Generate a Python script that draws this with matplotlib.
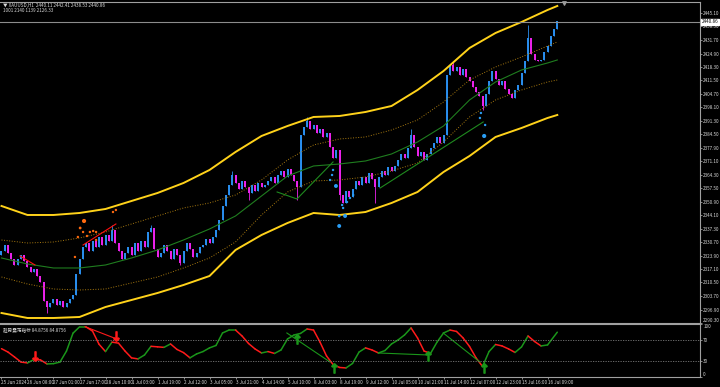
import numpy as np
from matplotlib import pyplot as plt

plt.rcParams['font.family'] = ['Noto Sans CJK SC', 'DejaVu Sans']

# XAUUSD 收盘价, 每2小时一根 (25 Jun 2024 -> 16 Jul 2024)
closes = [2326, 2329, 2325, 2322, 2319, 2322, 2324, 2321, 2318, 2315.5, 2317, 2313.5, 2310.5,
          2301, 2298,
          2300, 2302, 2299, 2301, 2298, 2300, 2302,
          2304, 2314.5, 2322, 2328,
          2330, 2326, 2331, 2328, 2333, 2329, 2334, 2331, 2336.5, 2330,
          2326, 2322, 2325, 2328, 2324, 2330, 2326, 2331, 2328, 2335.5, 2337.5, 2327, 2323,
          2325, 2329, 2326, 2322, 2327, 2324, 2320, 2326, 2330, 2327, 2323, 2325, 2328,
          2329, 2332, 2330, 2333, 2336.5,
          2341.5, 2348.5, 2354, 2359, 2364,
          2360, 2357, 2361, 2358, 2355, 2359, 2356, 2360, 2358,
          2359, 2361, 2363, 2360, 2364, 2366, 2363, 2367, 2364, 2361, 2358,
          2384, 2388, 2391, 2387,
          2389, 2385, 2387, 2383, 2385,
          2378, 2372.5, 2376.5,
          2354, 2350, 2356, 2353, 2357,
          2361, 2359, 2363, 2360, 2365, 2362,
          2358,
          2363, 2366, 2364, 2368, 2366,
          2368.5, 2371.5, 2374.5, 2372.5,
          2377.5, 2384, 2378,
          2373.5, 2375.5, 2371.5, 2374.5,
          2377.5, 2380, 2383,
          2380, 2384, 2414,
          2419, 2416, 2418, 2414, 2417, 2413,
          2411, 2408, 2405.5, 2403.5, 2398.5,
          2404.5, 2411, 2416,
          2412, 2409, 2411, 2407, 2404.5,
          2402.5, 2406.5, 2409, 2415,
          2421, 2432.5, 2424.5, 2421.5, 2421, 2421.5, 2425.5, 2428.5, 2433.5, 2437, 2440.86]
first_open = 2324
wick_high = {34: 2339, 46: 2339, 71: 2366, 94: 2393, 126: 2387, 139: 2421, 162: 2439}
wick_low = {14: 2295, 55: 2319, 76: 2351.5, 91: 2351.5, 104: 2351.5, 115: 2350, 148: 2396.5}
last_price = 2440.86

# 通道线 (每8根取一个值)
band_bars = list(range(0, 169, 8)) + [171]
upper_band = [2348.75, 2344.25, 2344.25, 2345.25, 2347.25, 2351.25, 2355.25, 2360.25, 2366.75, 2375.75,
              2383.75, 2388.75, 2393.25, 2393.75, 2395.75, 2398.75, 2406.75, 2416.25, 2427.75, 2435.25,
              2440.75, 2446.75, 2448.75]
upper_dot = [2331.75, 2330.25, 2330.75, 2332.75, 2335.75, 2339.75, 2343.75, 2347.75, 2350.25, 2354.25,
             2361.75, 2371.75, 2379.25, 2382.25, 2383.25, 2386.75, 2391.75, 2400.75, 2411.75, 2418.25,
             2423.25, 2428.75, 2430.75]
mid_line = [2322.75, 2319.75, 2317.75, 2317.75, 2319.25, 2322.75, 2326.75, 2331.75, 2337.25, 2343.75,
            2353.75, 2363.75, 2368.75, 2369.75, 2371.25, 2374.75, 2380.75, 2388.75, 2401.75, 2410.75,
            2416.75, 2420.25, 2421.75]
lower_dot = [2313.25, 2309.75, 2307.25, 2306.75, 2307.25, 2310.25, 2313.25, 2317.75, 2322.75, 2330.75,
             2344.25, 2355.75, 2361.25, 2361.75, 2363.25, 2366.25, 2370.25, 2380.75, 2393.25, 2401.75,
             2406.75, 2410.75, 2411.75]
lower_band = [2295.25, 2292.75, 2292.75, 2293.25, 2298.25, 2301.75, 2305.25, 2309.25, 2313.75, 2326.75,
              2334.25, 2340.25, 2345.25, 2344.25, 2345.75, 2350.25, 2355.75, 2365.75, 2373.75, 2383.25,
              2387.75, 2392.75, 2394.25]

# 红色背离线 / 绿色趋势线 (bar, price)
red_lines = [[(5.7, 2323.75), (10.3, 2319.25)], [(25.1, 2329.25), (35.2, 2339.75)]]
green_lines = [[(84.8, 2355.75), (90.9, 2352.25), (102.0, 2370.75)], [(116.5, 2357.75), (148.2, 2390.75)]]

# 橙色点 / 蓝色点 (bar, price, size)
orange_dots = [(25.4, 2341.25, 9), (24.2, 2337.75, 4), (23.5, 2333.25, 3), (25.1, 2335.75, 3),
               (26.3, 2333.75, 3), (27.2, 2335.75, 3), (28.2, 2336.25, 3), (29.1, 2335.75, 3),
               (22.6, 2323.25, 3), (29.1, 2331.75, 3), (34.3, 2345.75, 3), (35.2, 2346.75, 3)]
blue_dots = [(102.0, 2366.75, 3), (101.7, 2364.25, 3), (101.1, 2361.75, 3), (102.9, 2358.75, 8),
             (103.9, 2343.75, 4), (105.7, 2343.75, 8), (103.9, 2338.75, 8), (104.8, 2349.25, 3),
             (105.1, 2347.75, 3), (106.3, 2350.75, 3), (107.2, 2352.75, 3), (108.2, 2354.25, 3),
             (147.2, 2392.75, 3), (147.5, 2395.25, 3), (148.8, 2389.25, 3), (148.5, 2383.75, 9)]

# 震荡指标 (每2根一个值)
osc_bars = list(range(0, 170, 2)) + [171]
osc = [53.5, 47, 37.7, 28, 26.3, 33, 32, 24.4, 25, 28,
       49, 83, 95, 95, 87, 62, 48, 66, 64, 49,
       36, 34, 41.5, 58, 57, 56, 62.5, 52, 46, 36,
       43.4, 48, 55, 59.6, 83.4, 89, 89, 77.7, 63.4, 53,
       45.3, 48, 44.4, 51, 72, 79.6, 82.5, 91, 89, 66,
       39.6, 23.4, 17.7, 16.8, 25.3, 47, 55, 51, 45.3, 50,
       62.5, 70, 79.6, 93, 74, 49, 44.4, 66, 83.4, 89,
       86.3, 74, 57.7, 36, 19.6, 48, 61.5, 58.7, 53, 46.3,
       56.8, 77.7, 67.2, 58.7, 60.6, 84.9]
osc_red_lines = [[(25.7, 95.4), (34.9, 73.3)]]
osc_green_lines = [[(87.8, 83.4), (101.1, 28)], [(115.9, 45.3), (131.2, 41.5)], [(135.9, 83.4), (147.2, 28)]]
sell_arrows = [(10.3, 40), (35.2, 78)]
buy_arrows = [(90.9, 72), (102.3, 17), (131.2, 40), (148.5, 17)]

time_labels = ["25 Jun 2024", "26 Jun 08:00", "27 Jun 01:00", "27 Jun 17:00", "28 Jun 10:00",
               "1 Jul 03:00", "1 Jul 19:00", "2 Jul 12:00", "3 Jul 05:00", "3 Jul 21:00",
               "4 Jul 14:00", "5 Jul 10:00", "8 Jul 03:00", "8 Jul 19:00", "9 Jul 12:00",
               "10 Jul 05:00", "10 Jul 21:00", "11 Jul 14:00", "12 Jul 07:00", "12 Jul 23:00",
               "15 Jul 16:00", "16 Jul 09:00"]
price_ticks = [2445.10, 2438.50, 2431.70, 2424.90, 2418.30, 2411.50, 2404.70, 2398.10, 2391.30, 2384.50,
               2377.90, 2371.10, 2364.30, 2357.50, 2350.90, 2344.10, 2337.30, 2330.70, 2323.90, 2317.10,
               2310.50, 2303.70, 2296.90, 2290.30]

fg = '#a0a0a0'
txt = '#d8d8d8'
fs = 3.3

fig = plt.figure(figsize=(7.2, 3.87), dpi=100, facecolor='black')
ax = fig.add_axes([0, 0.1654, 0.9722, 0.8295], facecolor='black')
ax2 = fig.add_axes([0, 0.0258, 0.9722, 0.1370], facecolor='black', sharex=ax)

# K线
opens = [first_open] + closes[:-1]
for i in range(len(closes)):
    o, c = opens[i], closes[i]
    col = '#2a8ff0' if c >= o else '#ee22ee'
    hi = max(o, c, wick_high.get(i, c))
    lo = min(o, c, wick_low.get(i, c))
    ax.vlines(i, lo, hi, colors=col, linewidth=0.6)
    ax.vlines(i, min(o, c), max(o, c) + 0.3, colors=col, linewidth=1.4)

# 通道
ax.plot(band_bars, upper_band, color='#ffd21a', lw=1.4)
ax.plot(band_bars, lower_band, color='#ffd21a', lw=1.4)
ax.plot(band_bars, upper_dot, color='#a87a10', lw=0.7, linestyle=':')
ax.plot(band_bars, lower_dot, color='#a87a10', lw=0.7, linestyle=':')
ax.plot(band_bars, mid_line, color='#1f7d1f', lw=0.8)

for seg in red_lines:
    ax.plot([p[0] for p in seg], [p[1] for p in seg], color='#ff1010', lw=0.8)
for seg in green_lines:
    ax.plot([p[0] for p in seg], [p[1] for p in seg], color='#1f8a1f', lw=0.8)

ax.scatter([d[0] for d in orange_dots], [d[1] for d in orange_dots], s=[d[2] for d in orange_dots],
           color='#ff6a10', linewidths=0, zorder=5)
ax.scatter([d[0] for d in blue_dots], [d[1] for d in blue_dots], s=[d[2] for d in blue_dots],
           color='#2a9df4', linewidths=0, zorder=5)

# 当前价格线
ax.axhline(last_price, color='#8c8c8c', lw=0.8)
ax.annotate('%.2f' % last_price, xy=(1.0, last_price), xycoords=('axes fraction', 'data'),
            xytext=(1.2, 0), textcoords='offset points', ha='left', va='center', fontsize=fs,
            color='black', bbox=dict(boxstyle='square,pad=0.12', fc='white', ec='white'))
# 图表右移标记
ax.scatter([len(closes) + 1], [2450.2], marker='v', s=6, color='#9a9a9a', zorder=6, clip_on=False)

ax.set_xlim(-0.46, 214.9)
ax.set_ylim(2290.25, 2450.75)
ax.yaxis.tick_right()
ax.set_yticks(price_ticks)
ax.set_yticklabels(['%.2f' % p for p in price_ticks])
ax.get_yticklabels()[-1].set_va('bottom')
ax.tick_params(axis='y', colors=fg, labelcolor=txt, labelsize=fs, length=1.5, width=0.6, pad=0.8)
ax.tick_params(axis='x', bottom=False, labelbottom=False)
ax.spines['left'].set_visible(False)
for s in ['top', 'right', 'bottom']:
    ax.spines[s].set_color(fg)
    ax.spines[s].set_linewidth(0.8)

ax.text(0.004, 0.99, '▼ XAUUSD,H1  2440.11 2442.41 2438.53 2440.86', transform=ax.transAxes,
        fontsize=fs, color=txt, va='center', ha='left')
ax.text(0.004, 0.972, '1001 2140 1139 2126.33', transform=ax.transAxes,
        fontsize=fs, color=txt, va='center', ha='left')

# 震荡指标
for j in range(len(osc) - 1):
    col = '#1a961a' if osc[j + 1] >= osc[j] else '#ff1a1a'
    ax2.plot(osc_bars[j:j + 2], osc[j:j + 2], color=col, lw=1.1, solid_capstyle='round')
for seg in osc_red_lines:
    ax2.plot([p[0] for p in seg], [p[1] for p in seg], color='#ff1a1a', lw=0.8)
for seg in osc_green_lines:
    ax2.plot([p[0] for p in seg], [p[1] for p in seg], color='#1a961a', lw=0.8)
ax2.scatter([a[0] for a in sell_arrows], [a[1] for a in sell_arrows], marker=r'$\downarrow$',
            s=45, color='#ff1a1a', zorder=5)
ax2.scatter([a[0] for a in buy_arrows], [a[1] for a in buy_arrows], marker=r'$\uparrow$',
            s=45, color='#1a961a', zorder=5)

ax2.axhline(70, color='#7a7a7a', lw=0.6, linestyle=(0, (1.5, 1.5)))
ax2.axhline(30, color='#7a7a7a', lw=0.6, linestyle=(0, (1.5, 1.5)))
ax2.set_ylim(-0.5, 100.5)
ax2.yaxis.tick_right()
ax2.set_yticks([100, 70, 30, 0])
ax2.set_yticklabels(['100', '70', '30', '0'])
labs = ax2.get_yticklabels()
labs[0].set_va('top')
labs[3].set_va('bottom')
ax2.tick_params(axis='y', colors=fg, labelcolor=txt, labelsize=fs, length=1.5, width=0.6, pad=0.8)

ax2.set_xticks(list(range(0, 169, 8)))
ax2.set_xticklabels(time_labels)
for lab in ax2.get_xticklabels():
    lab.set_ha('left')
ax2.tick_params(axis='x', colors=fg, labelcolor=txt, labelsize=fs, length=1.5, width=0.6, pad=0.8)
ax2.spines['left'].set_visible(False)
for s in ['top', 'right', 'bottom']:
    ax2.spines[s].set_color(fg)
    ax2.spines[s].set_linewidth(0.8)

ax2.text(0.004, 0.9, '趋势震荡指标 84.8756 84.8756', transform=ax2.transAxes,
         fontsize=fs, color=txt, va='center', ha='left')

plt.savefig('out.png', dpi=100, facecolor='black')
